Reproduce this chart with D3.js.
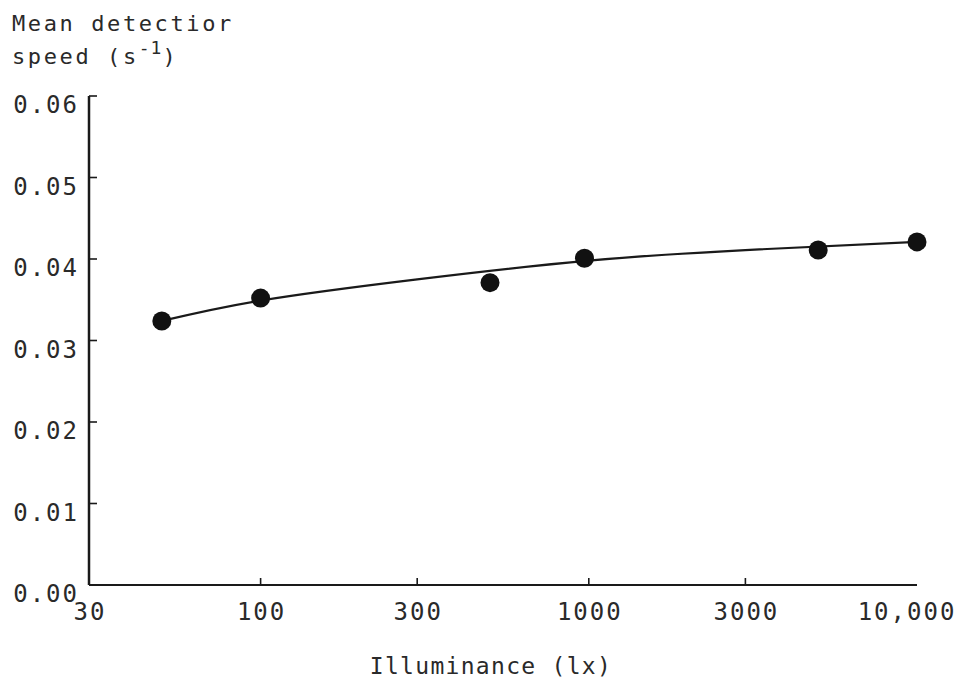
<!DOCTYPE html>
<html>
<head>
<meta charset="utf-8">
<script src="https://cdn.jsdelivr.net/npm/d3@7"></script>
<style>
  body { margin: 0; background: #fff; }
  text { font-family: "DejaVu Sans Mono", monospace; fill: #2a2a2a; }
</style>
</head>
<body>
<div id="chart"></div>
<script>
// measured points
const illuminance = [50, 100, 500, 970, 5000, 10000];
const detectionSpeed = [0.0324, 0.0352, 0.0371, 0.0401, 0.0411, 0.0421];

// fitted curve
const curveLux = [50, 100, 300, 1000, 3000, 10000];
const curveSpeed = [0.0324, 0.0349, 0.0375, 0.0398, 0.0411, 0.0421];

const xTicks = [100, 300, 1000, 3000];
const xTickLabels = [[30, "30"], [100, "100"], [300, "300"], [1000, "1000"], [3000, "3000"], [10000, "10,000"]];
const yTicks = [0, 0.01, 0.02, 0.03, 0.04, 0.05, 0.06];

const width = 963;
const height = 689;
const margin = { top: 96, right: 46, bottom: 104, left: 89 };
const ink = "#1a1a1a";

const svg = d3.select("#chart")
  .append("svg")
  .attr("width", width)
  .attr("height", height);

const x = d3.scaleLog().domain([30, 10000]).range([margin.left, width - margin.right]);
const y = d3.scaleLinear().domain([0, 0.06]).range([height - margin.bottom, margin.top]);

// axes lines
svg.append("line")
  .attr("x1", x(30)).attr("x2", x(30))
  .attr("y1", y(0.06)).attr("y2", y(0))
  .attr("stroke", ink).attr("stroke-width", 2.5);
svg.append("line")
  .attr("x1", x(30)).attr("x2", x(10000))
  .attr("y1", y(0)).attr("y2", y(0))
  .attr("stroke", ink).attr("stroke-width", 2);

// y ticks point inward
svg.append("g")
  .selectAll("line")
  .data(yTicks.slice(1))
  .enter()
  .append("line")
  .attr("x1", x(30)).attr("x2", x(30) + 8)
  .attr("y1", (d) => y(d)).attr("y2", (d) => y(d))
  .attr("stroke", ink).attr("stroke-width", 1.6);

svg.append("g")
  .selectAll("text")
  .data(yTicks)
  .enter()
  .append("text")
  .attr("x", x(30) - 10)
  .attr("y", (d) => y(d) + 17)
  .attr("text-anchor", "end")
  .style("font-size", "24px")
  .style("letter-spacing", "2px")
  .text((d) => d.toFixed(2));

// x ticks point up
svg.append("g")
  .selectAll("line")
  .data(xTicks)
  .enter()
  .append("line")
  .attr("x1", (d) => x(d)).attr("x2", (d) => x(d))
  .attr("y1", y(0)).attr("y2", y(0) - 7)
  .attr("stroke", ink).attr("stroke-width", 1.6);

svg.append("g")
  .selectAll("text")
  .data(xTickLabels)
  .enter()
  .append("text")
  .attr("x", (d) => x(d[0]) + (d[0] === 10000 ? -10 : 1))
  .attr("y", y(0) + 35)
  .attr("text-anchor", "middle")
  .style("font-size", "24px")
  .style("letter-spacing", "2px")
  .text((d) => d[1]);

// axis titles
svg.append("text")
  .attr("x", 491)
  .attr("y", 674)
  .attr("text-anchor", "middle")
  .style("font-size", "23px")
  .style("letter-spacing", "1.3px")
  .text("Illuminance (lx)");

const title = svg.append("text")
  .attr("x", 12)
  .attr("y", 31)
  .style("font-size", "22px")
  .style("letter-spacing", "2.6px");
title.append("tspan").text("Mean detectior");
const title2 = svg.append("text")
  .attr("x", 12)
  .attr("y", 64)
  .style("font-size", "22px")
  .style("letter-spacing", "2.6px");
title2.append("tspan").text("speed (s");
title2.append("tspan").attr("dy", -10).style("font-size", "18px").style("letter-spacing", "1px").text("-1");
title2.append("tspan").attr("dy", 10).text(")");

// fitted curve
const line = d3.line()
  .x((d) => x(d[0]))
  .y((d) => y(d[1]))
  .curve(d3.curveNatural);

svg.append("path")
  .datum(curveLux.map((v, i) => [v, curveSpeed[i]]))
  .attr("d", line)
  .attr("fill", "none")
  .attr("stroke", ink)
  .attr("stroke-width", 2.2);

// points
svg.append("g")
  .selectAll("circle")
  .data(illuminance.map((v, i) => [v, detectionSpeed[i]]))
  .enter()
  .append("circle")
  .attr("cx", (d) => x(d[0]))
  .attr("cy", (d) => y(d[1]))
  .attr("r", 9.5)
  .attr("fill", "#111");
</script>
</body>
</html>
